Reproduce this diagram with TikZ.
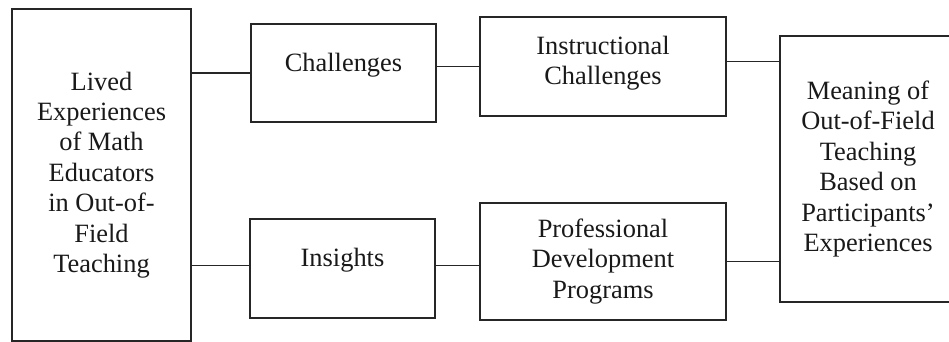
\documentclass[tikz,border=0pt]{standalone}
\usepackage{fontspec}
\setmainfont{Liberation Serif}
\usetikzlibrary{positioning}

\begin{document}
\begin{tikzpicture}[
    x=1pt, y=-1pt,
    block/.style={draw=black!85, line width=1.8pt, rectangle, align=center, fill=white, text=black!90, inner sep=0pt, font=\fontsize{26.4}{30.4}\selectfont},
    link/.style={draw=black!85, line width=1.8pt}
  ]
    \useasboundingbox (0,0) rectangle (949,342);

    % Nodes (left and right)
    \node[block, minimum width=179pt, minimum height=332pt] (lived) at (101.5,175) {
      Lived\\
      Experiences\\
      of Math\\
      Educators\\
      in Out-of-\\
      Field\\
      Teaching
    };

    \node[block, minimum width=176pt, minimum height=266pt] (meaning) at (868,169) {
      Meaning of\\
      Out-of-Field\\
      Teaching\\
      Based on\\
      Participants’\\
      Experiences
    };

    % Nodes (Row 1)
    \node[block, minimum width=185pt, minimum height=98pt, text depth=22pt] (chal) at (343.5,73) {Challenges};
    \node[block, minimum width=246pt, minimum height=99pt, text depth=12pt] (instr) at (603,66.5) {
      Instructional\\
      Challenges
    };

    % Nodes (Row 2)
    \node[block, minimum width=185pt, minimum height=99pt, text depth=22pt] (ins) at (342.5,268.5) {Insights};
    \node[block, minimum width=246pt, minimum height=117pt] (prof) at (603,261.5) {
      Professional\\
      Development\\
      Programs
    };

    % Connections
    \draw[link] (lived.east |- chal.west) -- (chal.west);
    \draw[link] (chal.east |- instr.west) -- (instr.west);
    \draw[link] ([yshift=5pt]instr.east) -- ([yshift=5pt]instr.east -| meaning.west);
    \draw[link] ([yshift=3pt]lived.east |- ins.west) -- ([yshift=3pt]ins.west);
    \draw[link] ([yshift=3pt]ins.east) -- ([yshift=3pt]ins.east -| prof.west);
    \draw[link] (prof.east) -- (prof.east -| meaning.west);

  \end{tikzpicture}
\end{document}
